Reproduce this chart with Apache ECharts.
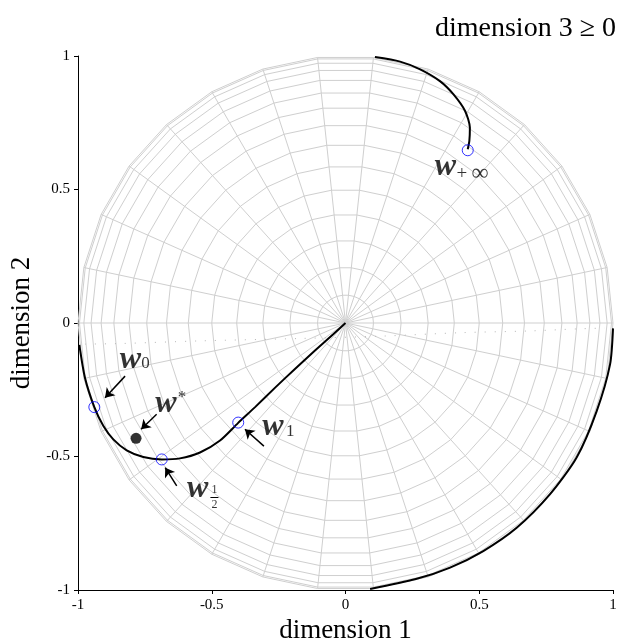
<!DOCTYPE html>
<html>
<head>
<meta charset="utf-8">
<script src="https://cdn.jsdelivr.net/npm/echarts@6/dist/echarts.min.js"></script>
<style>
  html, body { margin: 0; padding: 0; background: #ffffff; }
  #chart { width: 623px; height: 642px; }
</style>
</head>
<body>
<div id="chart"></div>
<script>
// ---- axis ticks -----------------------------------------------------------
const tickValues = [-1, -0.5, 0, 0.5, 1];
const tickLabels = ['-1', '-0.5', '0', '0.5', '1'];

// ---- trajectory (dimension 1, dimension 2) --------------------------------
// part on the visible hemisphere, entering at the left rim and reaching the pole
const pathFront = [
  [-0.995, -0.082], [-0.974, -0.205], [-0.939, -0.315], [-0.905, -0.386],
  [-0.868, -0.436], [-0.818, -0.477], [-0.756, -0.502], [-0.687, -0.511],
  [-0.619, -0.507], [-0.544, -0.485], [-0.469, -0.440], [-0.402, -0.375],
  [-0.338, -0.315], [-0.264, -0.243], [-0.189, -0.172], [-0.114, -0.103],
  [-0.047, -0.043], [0.000, 0.000]
];
// part running along the rim, lower right
const pathRim = [
  [1.000, -0.020], [0.989, -0.155], [0.939, -0.330], [0.864, -0.504],
  [0.764, -0.642], [0.640, -0.767], [0.515, -0.854], [0.391, -0.916],
  [0.263, -0.959], [0.092, -0.996]
];
// part approaching the limit point from the top rim
const pathTop = [
  [0.110, 0.996], [0.204, 0.979], [0.279, 0.950], [0.353, 0.906],
  [0.403, 0.857], [0.447, 0.794], [0.465, 0.731], [0.463, 0.682],
  [0.457, 0.651]
];
// hidden part (dimension 3 < 0), drawn dotted
const pathHidden = [
  [-0.974, -0.079], [-0.843, -0.077], [-0.544, -0.067], [-0.170, -0.058],
  [0.140, -0.049], [0.439, -0.036], [0.682, -0.030], [0.869, -0.022],
  [0.970, -0.019]
];

// ---- marked iterates -------------------------------------------------------
const iterateNames = ['w0', 'w1/2', 'w1', 'w+inf'];
const iteratePoints = [[-0.939, -0.315], [-0.687, -0.511], [-0.401, -0.373], [0.457, 0.647]];
const optimumPoint = [-0.783, -0.432];

// ---- wire-frame of the hemisphere -----------------------------------------
const MERIDIAN_COUNT = 30;   // longitude step 12 deg
const LATITUDE_STEP = 6;     // degrees between parallels

function sphereMesh() {
  const out = [];
  const d2r = Math.PI / 180;
  // meridians: straight spokes from the pole to the rim
  for (let k = 0; k < MERIDIAN_COUNT; k++) {
    const a = 2 * Math.PI * k / MERIDIAN_COUNT;
    out.push({ coords: [[0, 0], [Math.cos(a), Math.sin(a)]] });
  }
  // parallels: polygons through the meridian vertices
  for (let lat = 0; lat < 90; lat += LATITUDE_STEP) {
    const r = Math.cos(lat * d2r);
    const ring = [];
    for (let k = 0; k <= MERIDIAN_COUNT; k++) {
      const a = 2 * Math.PI * k / MERIDIAN_COUNT;
      ring.push([r * Math.cos(a), r * Math.sin(a)]);
    }
    out.push({ coords: ring });
  }
  return out;
}

// ---- annotation layout (data coordinates) ---------------------------------
const SERIF = '"Liberation Serif", "DejaVu Serif", serif';
const bigW = { fontSize: 32, fontStyle: 'italic', fontWeight: 'bold' };
const sub = { fontSize: 17 };
const tiny = { fontSize: 12 };

const labelPieces = [
  { text: 'w', at: [-0.804, -0.137], style: bigW },
  { text: '0', at: [-0.748, -0.152], style: sub },
  { text: 'w', at: [-0.671, -0.303], style: bigW },
  { text: '*', at: [-0.611, -0.279], style: sub },
  { text: 'w', at: [-0.553, -0.620], style: bigW },
  { text: '1', at: [-0.490, -0.625], style: tiny },
  { text: '2', at: [-0.490, -0.682], style: tiny },
  { text: 'w', at: [-0.271, -0.390], style: bigW },
  { text: '1', at: [-0.207, -0.408], style: sub },
  { text: 'w', at: [0.374, 0.584], style: bigW },
  { text: '+', at: [0.435, 0.557], style: { fontSize: 19 } },
  { text: '\u221E', at: [0.503, 0.560], style: { fontSize: 24 } }
];
const fractionBar = [[-0.505, -0.654], [-0.475, -0.654]];

const arrows = [
  [[-0.824, -0.199], [-0.899, -0.280]],
  [[-0.706, -0.342], [-0.764, -0.398]],
  [[-0.631, -0.610], [-0.674, -0.542]],
  [[-0.305, -0.461], [-0.376, -0.398]]
];

// ---- chart -----------------------------------------------------------------
const chart = echarts.init(document.getElementById('chart'), null, { renderer: 'canvas' });

const axisCommon = {
  type: 'value', min: -1, max: 1, interval: 0.5,
  splitLine: { show: false },
  axisLine: { show: true, onZero: false, lineStyle: { color: '#000', width: 1 } },
  axisTick: { show: true, inside: false, length: 4, lineStyle: { color: '#000', width: 1 } },
  axisLabel: {
    color: '#000', fontFamily: SERIF, fontSize: 15, margin: 8,
    formatter: v => tickLabels[tickValues.indexOf(Math.round(v * 2) / 2)] ?? ''
  },
  nameLocation: 'middle',
  nameTextStyle: { color: '#000', fontFamily: SERIF, fontSize: 27 }
};

const blackLine = (data) => ({
  type: 'line', data, showSymbol: false, smooth: 0.25, z: 5, silent: true,
  lineStyle: { color: '#000', width: 2 }
});

chart.setOption({
  animation: false,
  backgroundColor: '#ffffff',
  title: {
    text: 'dimension 3 \u2265 0', right: 2, top: 10,
    textStyle: { color: '#000', fontFamily: SERIF, fontSize: 28, fontWeight: 'normal' }
  },
  grid: { left: 78, right: 10, top: 56, bottom: 52, outerBoundsMode: 'none' },
  xAxis: Object.assign({}, axisCommon, { name: 'dimension 1', nameGap: 20 }),
  yAxis: Object.assign({}, axisCommon, { name: 'dimension 2', nameGap: 43, nameRotate: 90 }),
  series: [
    {
      type: 'lines', coordinateSystem: 'cartesian2d', polyline: true, silent: true, z: 1,
      data: sphereMesh(),
      lineStyle: { color: '#cfcfcf', width: 1, opacity: 1 }
    },
    {
      type: 'line', data: pathHidden, showSymbol: false, smooth: 0.3, z: 2, silent: true,
      lineStyle: { color: '#b8b8b8', width: 1, type: [1, 9] }
    },
    blackLine(pathFront),
    blackLine(pathRim),
    blackLine(pathTop),
    {
      type: 'lines', coordinateSystem: 'cartesian2d', silent: true, z: 6,
      symbol: ['none', 'arrow'], symbolSize: [0, 9],
      data: arrows.map(c => ({ coords: c })),
      lineStyle: { color: '#000', width: 1.5, opacity: 1 }
    },
    {
      type: 'lines', coordinateSystem: 'cartesian2d', silent: true, z: 6,
      data: [{ coords: fractionBar }],
      lineStyle: { color: '#000', width: 1, opacity: 1 }
    },
    {
      type: 'scatter', name: 'iterates', z: 7, silent: true,
      data: iteratePoints.map((p, i) => ({ name: iterateNames[i], value: p })),
      symbol: 'circle', symbolSize: 11,
      itemStyle: { color: 'rgba(0,0,0,0)', borderColor: '#0000ff', borderWidth: 1 }
    },
    {
      type: 'scatter', name: 'optimum', z: 7, silent: true,
      data: [optimumPoint], symbol: 'circle', symbolSize: 11,
      itemStyle: { color: '#000' }
    },
    {
      type: 'scatter', z: 8, silent: true,
      symbolSize: 0,
      itemStyle: { color: 'rgba(0,0,0,0)' },
      data: labelPieces.map(p => ({
        value: p.at,
        label: Object.assign({
          show: true, position: 'inside', formatter: p.text,
          color: '#000', fontFamily: SERIF, align: 'center', verticalAlign: 'middle'
        }, p.style)
      }))
    }
  ]
});
</script>
</body>
</html>
